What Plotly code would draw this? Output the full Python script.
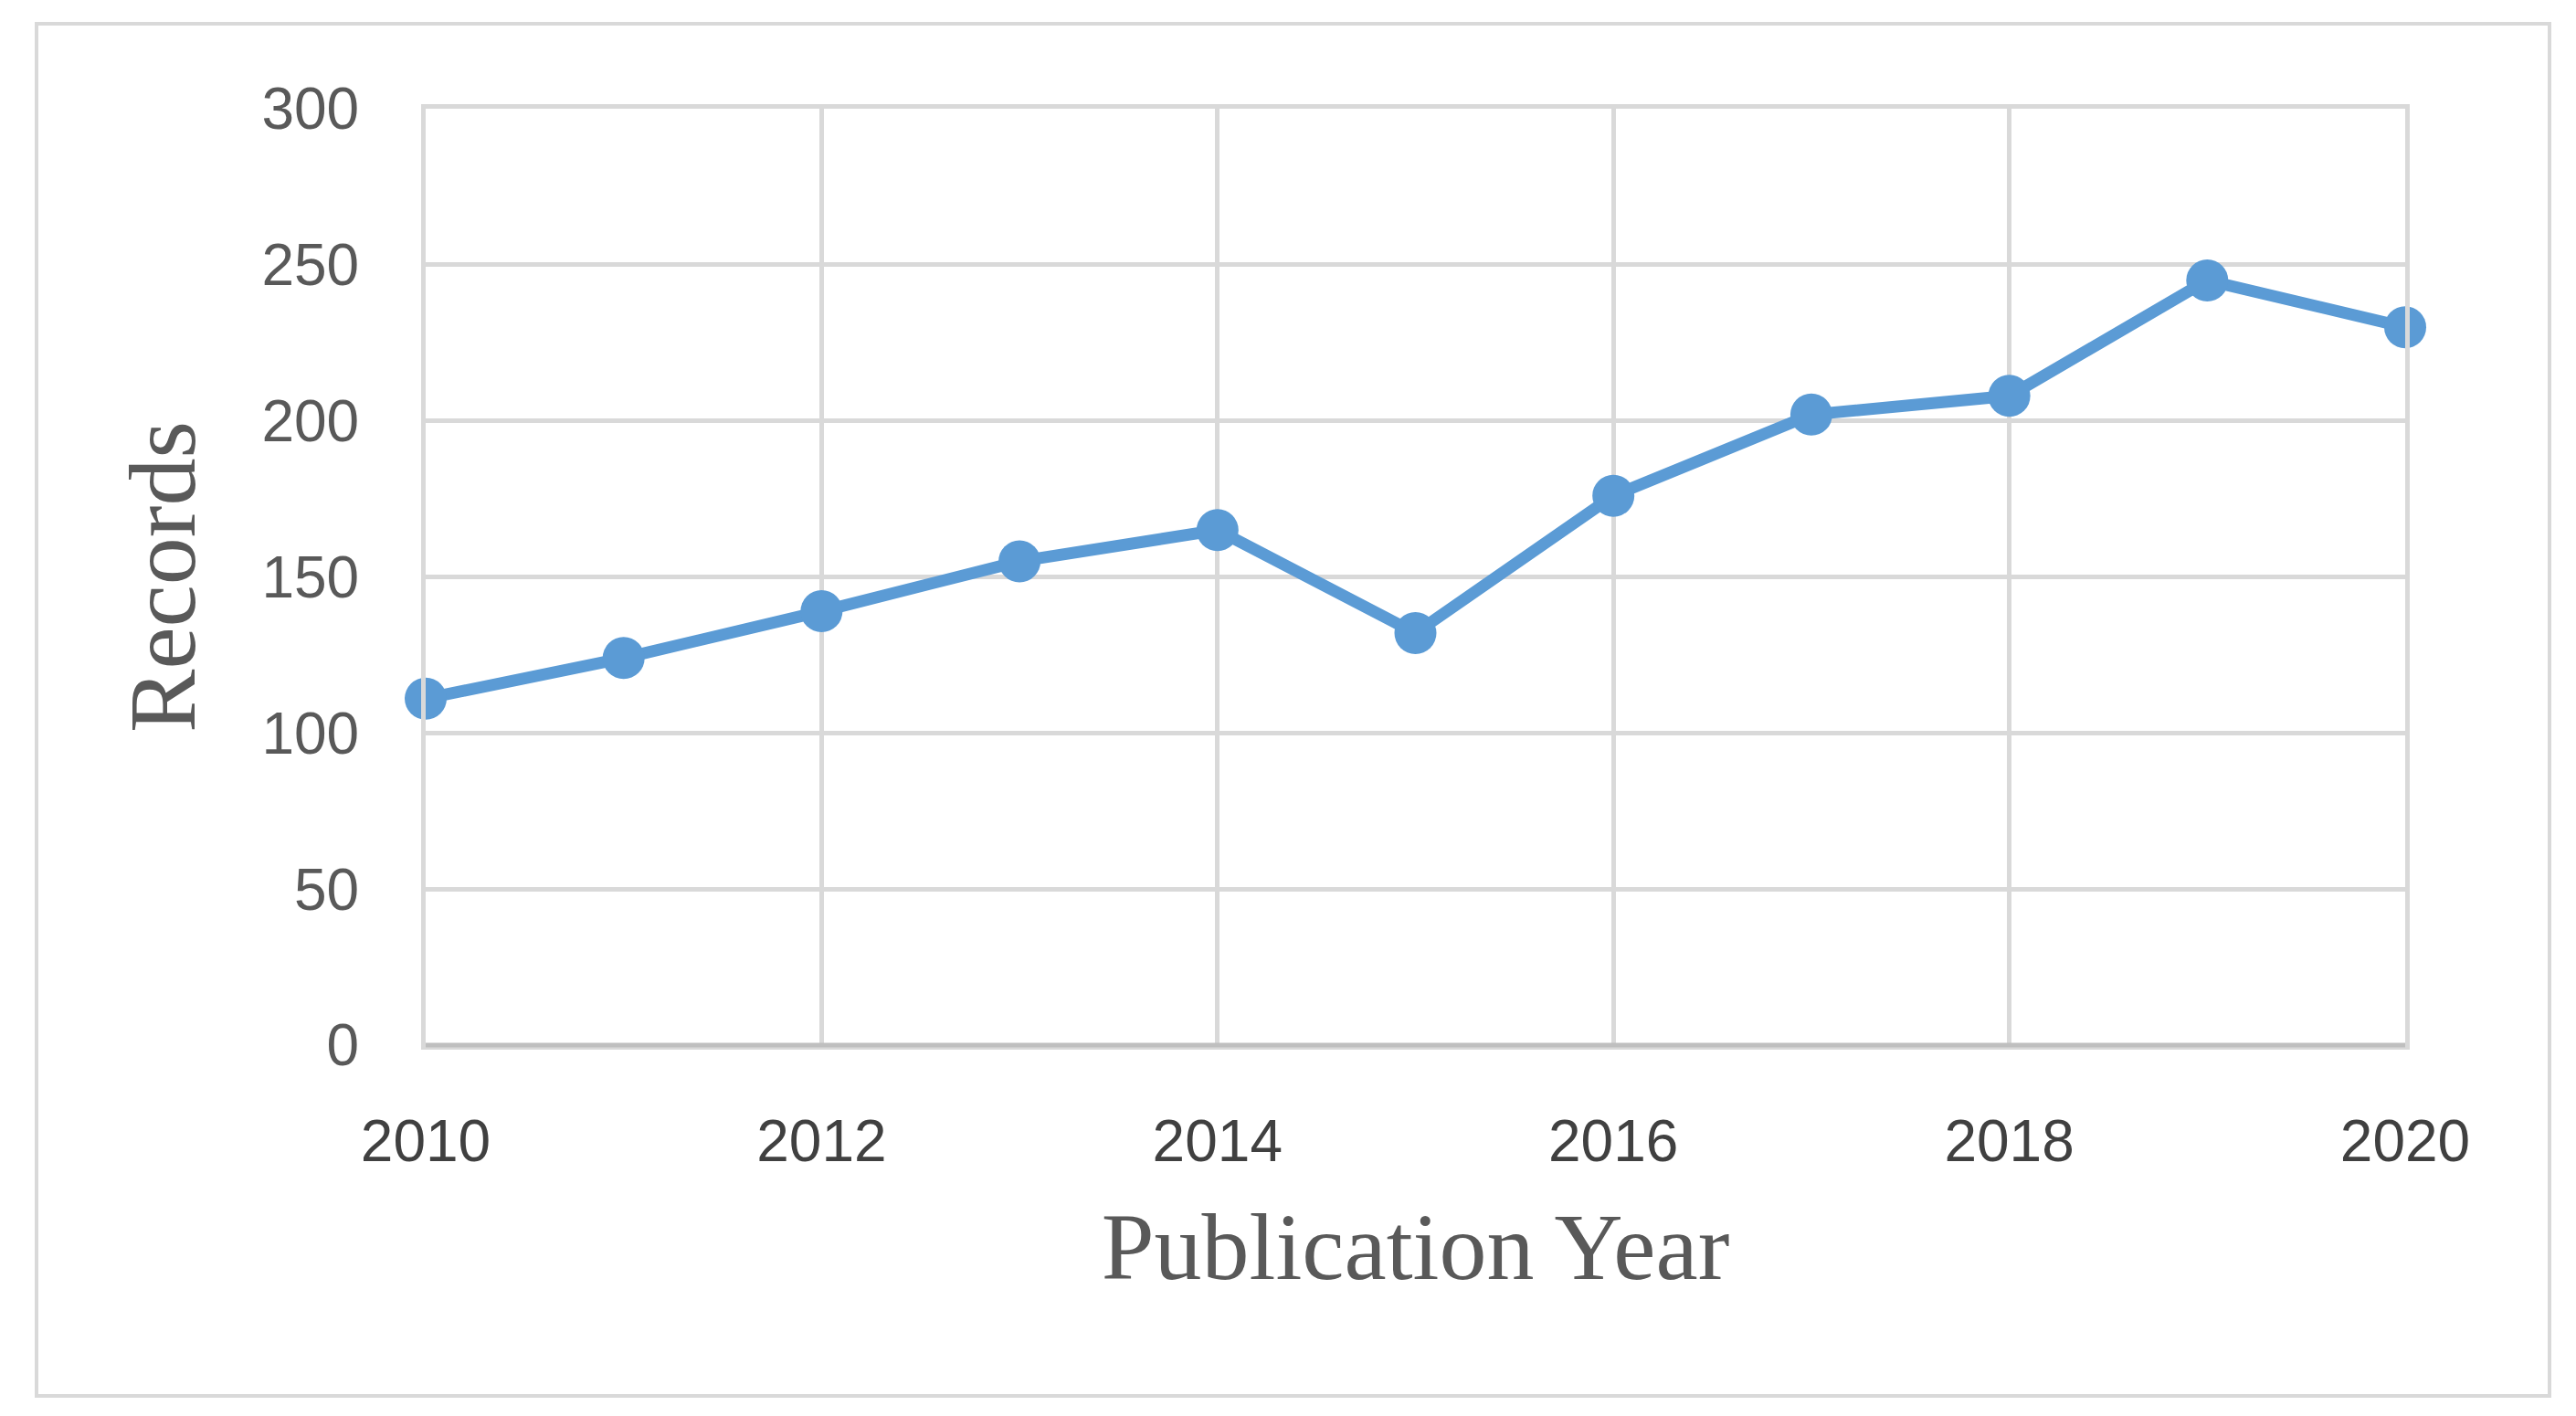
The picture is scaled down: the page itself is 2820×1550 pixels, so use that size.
import plotly.graph_objects as go

years = [2010, 2011, 2012, 2013, 2014, 2015, 2016, 2017, 2018, 2019, 2020]
records = [111, 124, 139, 155, 165, 132, 176, 202, 208, 245, 230]
x_ticks = [2010, 2012, 2014, 2016, 2018, 2020]
y_ticks = [0, 50, 100, 150, 200, 250, 300]

W, H = 2820, 1550
L, R, T, B = 458, 195, 111, 414
pw, ph = W - L - R, H - T - B

fig = go.Figure(go.Scatter(
    x=years, y=records, mode="lines+markers",
    line=dict(color="#5B9BD5", width=13),
    marker=dict(color="#5B9BD5", size=46),
    cliponaxis=False,
))

fig.update_layout(
    width=W, height=H, margin=dict(l=L, r=R, t=T, b=B),
    plot_bgcolor="white", paper_bgcolor="white", showlegend=False,
    xaxis=dict(range=[2010, 2020], tickvals=x_ticks, showgrid=True, gridcolor="#D9D9D9",
               gridwidth=5, zeroline=False, showline=True, mirror=True,
               linecolor="#D9D9D9", linewidth=5, ticks="",
               tickfont=dict(family="Liberation Sans, Arial", size=64, color="#404040"),
               ticklabelstandoff=45,
               title=dict(text="Publication Year", standoff=45,
                          font=dict(family="Liberation Serif, Times New Roman", size=104, color="#595959"))),
    yaxis=dict(range=[0, 300], tickvals=y_ticks, showgrid=True, gridcolor="#D9D9D9",
               gridwidth=5, zeroline=False, showline=True, mirror=True,
               linecolor="#D9D9D9", linewidth=5, ticks="",
               tickfont=dict(family="Liberation Sans, Arial", size=64, color="#595959"),
               ticklabelstandoff=55,
               title=dict(text="Records", standoff=40,
                          font=dict(family="Liberation Serif, Times New Roman", size=104, color="#595959"))),
    shapes=[
        dict(type="rect", xref="paper", yref="paper",
             x0=(32 - L) / pw, x1=(2783 - L) / pw,
             y0=(H - B - 1520) / ph, y1=(H - B - 18) / ph,
             line=dict(color="#D9D9D9", width=4), layer="below"),
        dict(type="line", xref="paper", yref="paper", x0=0, x1=1, y0=0, y1=0,
             line=dict(color="#BFBFBF", width=5)),
    ],
)

fig.write_html("out.html")
